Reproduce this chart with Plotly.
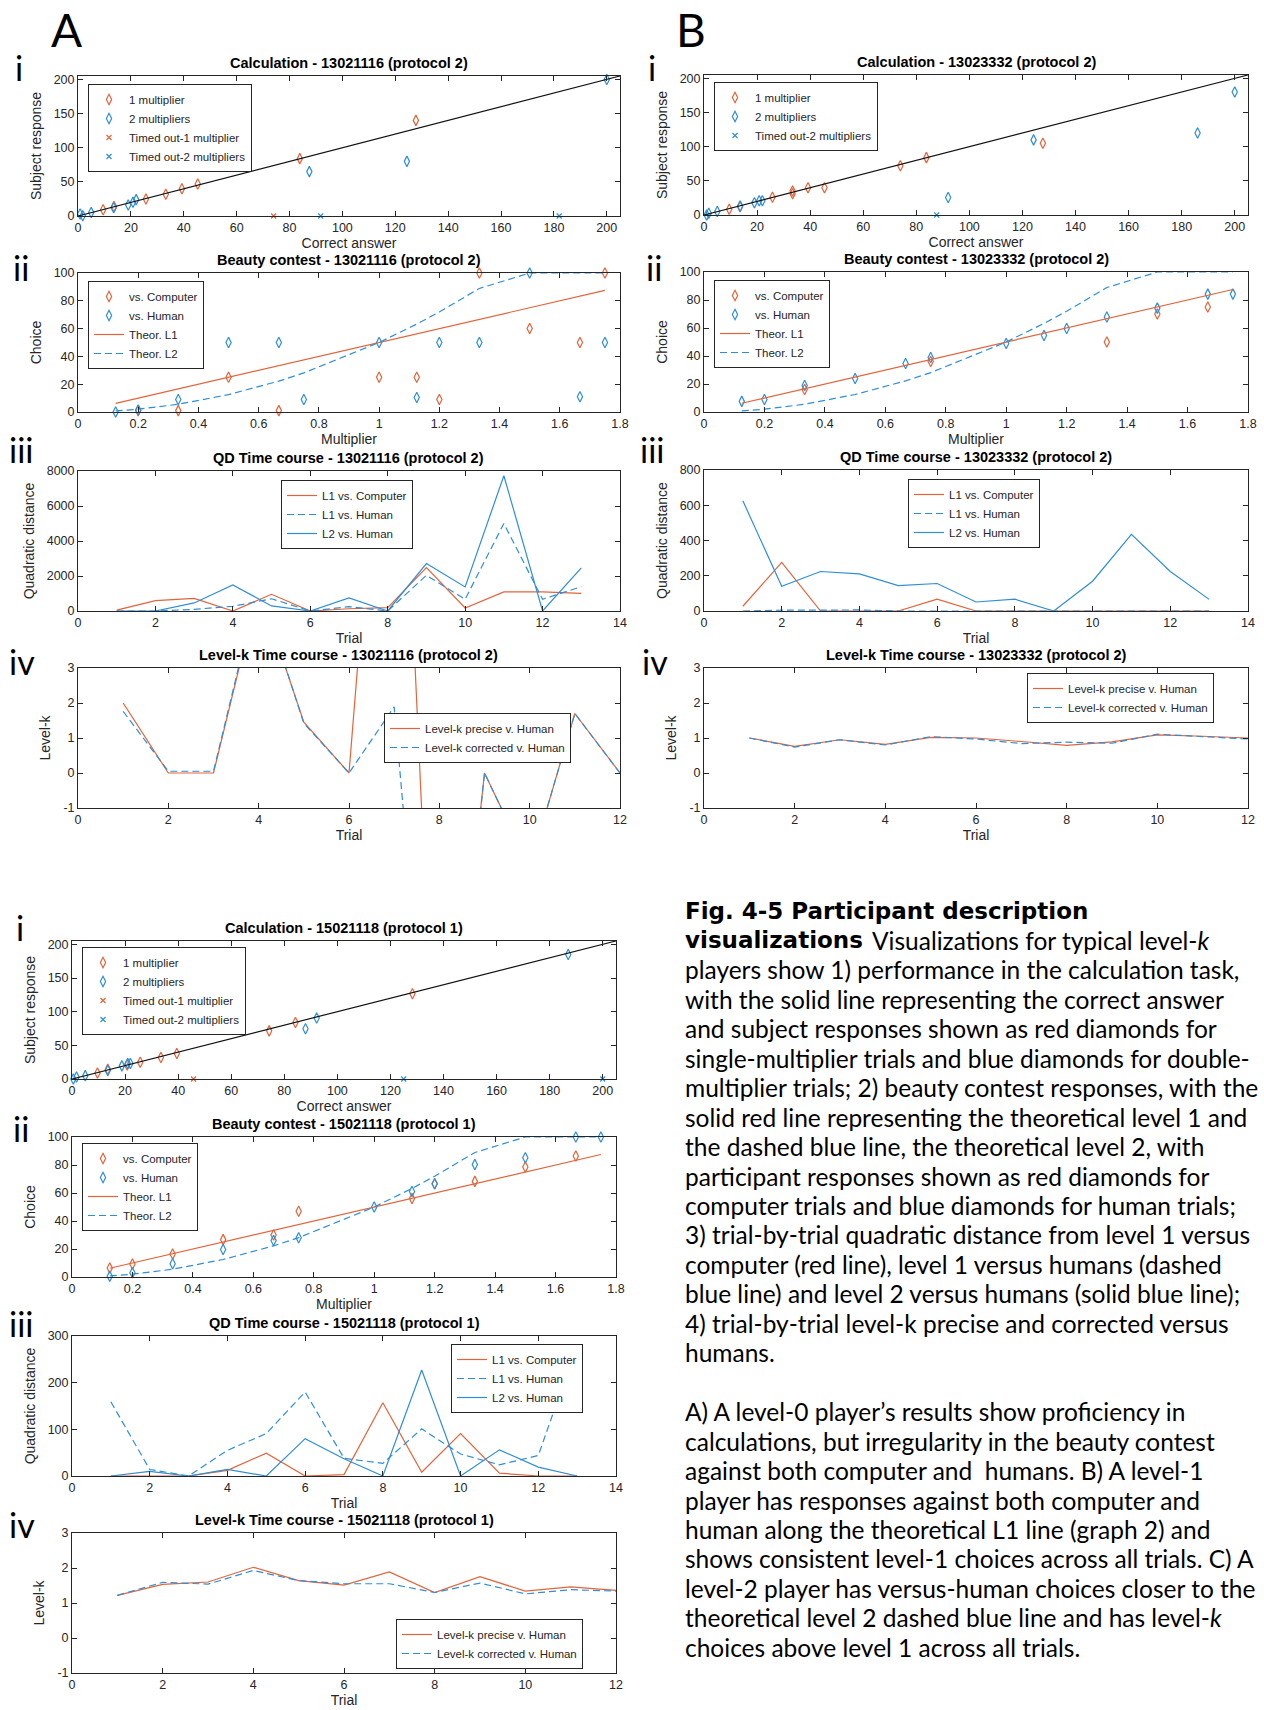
import plotly.graph_objects as go

W, H = 1264, 1710
ORANGE = "#E3643A"
BLUE = "#2F8ED8"
INK = "#262626"
FONT = "Liberation Sans, Arial, sans-serif"
CAPTION_FONT = "Lato, sans-serif"
HEAD_FONT = "DejaVu Sans, sans-serif"

# ---------------- shared categories ----------------
MULT = [0.125, 0.2, 0.333, 0.5, 0.667, 0.75, 1.0, 1.125, 1.2, 1.333, 1.5, 1.667, 1.75]
THEOR_L1 = [6.25, 10, 16.67, 25, 33.33, 37.5, 50, 56.25, 60, 66.67, 75, 83.33, 87.5]
THEOR_L2 = [0.78, 2, 5.56, 12.5, 22.22, 28.13, 50, 63.28, 72, 88.89, 100, 100, 100]
QD_TRIALS = [1, 2, 3, 4, 5, 6, 7, 8, 9, 10, 11, 12, 13]
LK_TRIALS = [1, 2, 3, 4, 5, 6, 7, 8, 9, 10, 11, 12]
CORRECT_LINE = [0, 205]

# ---------------- A: 13021116 (protocol 2) ----------------
A_one_x = [9.5, 13.6, 25.7, 33.2, 39.3, 45.3, 83.9, 127.8]
A_one_y = [9, 14, 25, 32, 40, 47, 84, 140]
A_two_x = [0.8, 1.8, 5, 13.5, 19, 20.8, 22, 87.5, 124.4, 200]
A_two_y = [3, 0.5, 5, 12, 16, 20, 24, 65, 80, 200]
A_to_one_x = [74]
A_to_one_y = [0]
A_to_two_x = [91.8, 182]
A_to_two_y = [0, 0]

A_comp_x = [0.2, 0.333, 0.5, 0.667, 1.0, 1.125, 1.2, 1.333, 1.5, 1.667, 1.75]
A_comp_y = [1, 1, 25, 1, 25, 25, 9, 100, 60, 50, 100]
A_hum_y = [0, 1.5, 9, 50, 50, 9, 50, 10.5, 50, 50, 100, 11, 50]

A_qd_l1_comp = [50, 590, 725, 0, 955, 0, 130, 190, 2480, 170, 1090, 1090, 1010]
A_qd_l1_hum = [0, 0, 95, 270, 700, 0, 250, 0, 2040, 670, 5000, 670, 1390]
A_qd_l2_hum = [0, 0, 460, 1490, 290, 0, 750, 0, 2710, 1375, 7730, 0, 2460]

A_lk_precise = [2.0, 0, 0, 5.3, 1.45, 0, 16, -12, 0, -2.7, 1.7, 0]
A_lk_corrected = [1.76, 0.05, 0.05, 5.4, 1.42, 0, 1.89, -12.6, 0, -2.7, 1.7, 0]

# ---------------- B: 13023332 (protocol 2) ----------------
B_one_x = [9.5, 13.6, 25.8, 33.4, 33.4, 39.2, 45.4, 74, 83.8, 127.7]
B_one_y = [8.4, 12, 26, 31, 35, 40, 40, 72, 84, 105]
B_two_x = [1, 1.8, 5, 13.6, 19, 20.8, 22, 92, 124.2, 186, 200]
B_two_y = [0, 2.5, 5, 13, 18, 21, 21, 25.5, 110, 120, 180]
B_to_two_x = [87.7]
B_to_two_y = [0]

B_comp_x = [0.333, 0.75, 1.333, 1.5, 1.667]
B_comp_y = [16, 36, 50, 70, 75]
B_hum_y = [7.6, 9, 19, 24, 34.6, 39, 49, 54.7, 59.7, 67.8, 74.2, 84.2, 84.2]

B_qd_l1_comp = [27, 276, 0, 0, 0, 67, 0, 0, 0, 0, 0, 0, 0]
B_qd_l1_hum = [0, 5, 5, 6, 0, 0, 0, 0, 0, 0, 0, 0, 0]
B_qd_l2_hum = [625, 140, 224, 211, 144, 156, 51, 67, 0, 169, 435, 224, 66]

B_lk_precise = [1.0, 0.76, 0.95, 0.82, 1.02, 1.0, 0.9, 0.79, 0.89, 1.09, 1.05, 1.0]
B_lk_corrected = [1.0, 0.74, 0.95, 0.80, 1.04, 0.97, 0.84, 0.88, 0.85, 1.11, 1.04, 0.97]

# ---------------- C: 15021118 (protocol 1) ----------------
C_one_x = [9.6, 13.5, 20.8, 25.7, 33.5, 39.5, 74.3, 84.2, 128.3]
C_one_y = [8.8, 14.6, 21, 25, 32, 38, 71.5, 84, 126.5]
C_two_x = [0.5, 1.7, 5, 13.5, 18.8, 21, 22, 88, 92.2, 187]
C_two_y = [0, 3, 5, 12.7, 19.5, 23, 23, 74.5, 90.5, 185]
C_to_one_x = [45.8]
C_to_one_y = [0]
C_to_two_x = [125, 200]
C_to_two_y = [0, 0]

C_comp_x = [0.125, 0.2, 0.333, 0.5, 0.667, 0.75, 1.125, 1.2, 1.333, 1.5, 1.667]
C_comp_y = [6.4, 9.3, 16.5, 26.7, 30, 47, 56, 66.6, 68.3, 78.5, 86.4]
C_hum_y = [0.5, 3, 9.5, 19.6, 26, 28, 50, 61, 66.6, 80.4, 85.2, 100, 100]

C_qd_l1_comp = [0, 0, 0, 12, 49, 0, 3, 157, 8, 91, 6, 0, 0]
C_qd_l1_hum = [159, 14, 0, 55, 91, 180, 38, 27, 101, 47, 24, 44, 281]
C_qd_l2_hum = [0, 10, 0, 14, 0, 80, 37, 0, 227, 0, 56, 19, 0]

C_lk_precise = [1.22, 1.53, 1.60, 2.02, 1.64, 1.51, 1.89, 1.30, 1.75, 1.34, 1.46, 1.36]
C_lk_corrected = [1.22, 1.59, 1.54, 1.93, 1.64, 1.55, 1.55, 1.30, 1.57, 1.26, 1.38, 1.34]

CAPTION_HEAD = "Fig. 4-5 Participant description"
CAPTION_HEAD_2 = "visualizations"
CAPTION = [
    None,
    "Visualizations for typical level-<i>k</i>",
    "players show 1) performance in the calculation task,",
    "with the solid line representing the correct answer",
    "and subject responses shown as red diamonds for",
    "single-multiplier trials and blue diamonds for double-",
    "multiplier trials; 2) beauty contest responses, with the",
    "solid red line representing the theoretical level 1 and",
    "the dashed blue line, the theoretical level 2, with",
    "participant responses shown as red diamonds for",
    "computer trials and blue diamonds for human trials;",
    "3) trial-by-trial quadratic distance from level 1 versus",
    "computer (red line), level 1 versus humans (dashed",
    "blue line) and level 2 versus humans (solid blue line);",
    "4) trial-by-trial level-k precise and corrected versus",
    "humans.",
    None,
    "A) A level-0 player\u2019s results show proficiency in",
    "calculations, but irregularity in the beauty contest",
    "against both computer and  humans. B) A level-1",
    "player has responses against both computer and",
    "human along the theoretical L1 line (graph 2) and",
    "shows consistent level-1 choices across all trials. C) A",
    "level-2 player has versus-human choices closer to the",
    "theoretical level 2 dashed blue line and has level-<i>k</i>",
    "choices above level 1 across all trials.",
]

fig = go.Figure()
layout = {}
annotations = []


def px_x(p):
    return p / W


def px_y(p):
    return 1 - p / H


def axis(domain, rng, title, dtick=None, tickvals=None, ticktext=None, anchor=None, standoff=4):
    d = dict(domain=domain, range=rng, anchor=anchor, showline=True, linecolor=INK, linewidth=1,
             mirror="ticks", ticks="inside", ticklen=5, tickwidth=1, tickcolor=INK,
             showgrid=False, zeroline=False, automargin=False, fixedrange=True,
             tickfont=dict(family=FONT, size=12.5, color=INK),
             title=dict(text=title, font=dict(family=FONT, size=14, color=INK), standoff=standoff))
    if dtick is not None:
        d["tick0"] = 0
        d["dtick"] = dtick
    if tickvals is not None:
        d["tickmode"] = "array"
        d["tickvals"] = tickvals
        d["ticktext"] = ticktext
    return d


LK_TICKS = [-1, 0, 1, 2, 3]
LK_TEXT = ["-1", "0", "1", "2", "3"]


def legend_box(x, y, xanchor="left", yanchor="top"):
    return dict(x=px_x(x), y=px_y(y), xanchor=xanchor, yanchor=yanchor, bgcolor="white",
                bordercolor=INK, borderwidth=1, font=dict(family=FONT, size=11.5, color=INK),
                tracegroupgap=0, itemwidth=30)


def diamonds(x, y, color, name, n, leg):
    return go.Scatter(x=x, y=y, mode="markers", name=name, xaxis=f"x{n}", yaxis=f"y{n}",
                      legend=leg, cliponaxis=False,
                      marker=dict(symbol="diamond-tall-open", size=7.5, color=color,
                                  line=dict(width=1.2, color=color)))


def crosses(x, y, color, name, n, leg):
    return go.Scatter(x=x, y=y, mode="markers", name=name, xaxis=f"x{n}", yaxis=f"y{n}",
                      legend=leg, cliponaxis=False,
                      marker=dict(symbol="x-thin-open", size=5, color=color,
                                  line=dict(width=1.2, color=color)))


def curve(x, y, color, name, n, leg, dash="solid", show=True):
    return go.Scatter(x=x, y=y, mode="lines", name=name, xaxis=f"x{n}", yaxis=f"y{n}",
                      legend=leg, showlegend=show, line=dict(color=color, width=1.2, dash=dash))


DASH = "7px,4px"
legend_no = [0]


def new_legend(spec):
    legend_no[0] += 1
    key = "legend" if legend_no[0] == 1 else f"legend{legend_no[0]}"
    layout[key] = legend_box(*spec)
    return key


def subplot(n, box, title, xcfg, ycfg):
    l, t, r, b = box
    layout[f"xaxis{n}"] = axis([px_x(l), px_x(r)], anchor=f"y{n}", **xcfg)
    layout[f"yaxis{n}"] = axis([px_y(b), px_y(t)], anchor=f"x{n}", **ycfg)
    annotations.append(dict(text=f"<b>{title}</b>", x=px_x((l + r) / 2), y=px_y(t - 13),
                            xref="paper", yref="paper", showarrow=False, xanchor="center",
                            yanchor="middle", font=dict(family=FONT, size=14.5, color="black")))


def calc_panel(n, box, title, one, two, to_one, to_two, leg_spec):
    subplot(n, box, title,
            dict(rng=[0, 205], title="Correct answer", dtick=20),
            dict(rng=[0, 205], title="Subject response", dtick=50, standoff=8))
    leg = new_legend(leg_spec)
    fig.add_trace(diamonds(one[0], one[1], ORANGE, "1 multiplier", n, leg))
    fig.add_trace(diamonds(two[0], two[1], BLUE, "2 multipliers", n, leg))
    if to_one is not None:
        fig.add_trace(crosses(to_one[0], to_one[1], ORANGE, "Timed out-1 multiplier", n, leg))
    fig.add_trace(crosses(to_two[0], to_two[1], BLUE, "Timed out-2 multipliers", n, leg))
    fig.add_trace(curve(CORRECT_LINE, CORRECT_LINE, "#111111", "Correct", n, leg, show=False))


def beauty_panel(n, box, title, comp_x, comp_y, hum_y, leg_spec):
    subplot(n, box, title,
            dict(rng=[0, 1.8], title="Multiplier", dtick=0.2),
            dict(rng=[0, 100], title="Choice", dtick=20, standoff=8))
    leg = new_legend(leg_spec)
    fig.add_trace(diamonds(comp_x, comp_y, ORANGE, "vs. Computer", n, leg))
    fig.add_trace(diamonds(MULT, hum_y, BLUE, "vs. Human", n, leg))
    fig.add_trace(curve(MULT, THEOR_L1, ORANGE, "Theor. L1", n, leg))
    fig.add_trace(curve(MULT, THEOR_L2, BLUE, "Theor. L2", n, leg, dash=DASH))


def qd_panel(n, box, title, ymax, ydtick, l1c, l1h, l2h, leg_spec):
    subplot(n, box, title,
            dict(rng=[0, 14], title="Trial", dtick=2),
            dict(rng=[0, ymax], title="Quadratic distance", dtick=ydtick, standoff=8))
    leg = new_legend(leg_spec)
    fig.add_trace(curve(QD_TRIALS, l1c, ORANGE, "L1 vs. Computer", n, leg))
    fig.add_trace(curve(QD_TRIALS, l1h, BLUE, "L1 vs. Human", n, leg, dash=DASH))
    fig.add_trace(curve(QD_TRIALS, l2h, BLUE, "L2 vs. Human", n, leg))


def lk_panel(n, box, title, precise, corrected, leg_spec):
    subplot(n, box, title,
            dict(rng=[0, 12], title="Trial", dtick=2),
            dict(rng=[-1, 3], title="Level-k", tickvals=LK_TICKS, ticktext=LK_TEXT, standoff=9))
    leg = new_legend(leg_spec)
    fig.add_trace(curve(LK_TRIALS, precise, ORANGE, "Level-k precise v. Human", n, leg))
    fig.add_trace(curve(LK_TRIALS, corrected, BLUE, "Level-k corrected v. Human", n, leg, dash=DASH))


# column A
AX = (78, 620)
calc_panel(1, (AX[0], 76, AX[1], 216), "Calculation - 13021116 (protocol 2)",
           (A_one_x, A_one_y), (A_two_x, A_two_y), (A_to_one_x, A_to_one_y),
           (A_to_two_x, A_to_two_y), (88, 84))
beauty_panel(2, (AX[0], 273, AX[1], 412), "Beauty contest - 13021116 (protocol 2)",
             A_comp_x, A_comp_y, A_hum_y, (88, 281))
qd_panel(3, (AX[0], 471, AX[1], 611), "QD Time course - 13021116 (protocol 2)", 8000, 2000,
         A_qd_l1_comp, A_qd_l1_hum, A_qd_l2_hum, (281, 480))
lk_panel(4, (AX[0], 668, AX[1], 808), "Level-k Time course - 13021116 (protocol 2)",
         A_lk_precise, A_lk_corrected, (384, 738, "left", "middle"))

# column B
BX = (704, 1248)
calc_panel(5, (BX[0], 75, BX[1], 215), "Calculation - 13023332 (protocol 2)",
           (B_one_x, B_one_y), (B_two_x, B_two_y), None,
           (B_to_two_x, B_to_two_y), (714, 82))
beauty_panel(6, (BX[0], 272, BX[1], 412), "Beauty contest - 13023332 (protocol 2)",
             B_comp_x, B_comp_y, B_hum_y, (714, 280))
qd_panel(7, (BX[0], 470, BX[1], 611), "QD Time course - 13023332 (protocol 2)", 800, 200,
         B_qd_l1_comp, B_qd_l1_hum, B_qd_l2_hum, (908, 479))
lk_panel(8, (BX[0], 668, BX[1], 808), "Level-k Time course - 13023332 (protocol 2)",
         B_lk_precise, B_lk_corrected, (1214, 673, "right", "top"))

# column C
CX = (72, 616)
calc_panel(9, (CX[0], 941, CX[1], 1079), "Calculation - 15021118 (protocol 1)",
           (C_one_x, C_one_y), (C_two_x, C_two_y), (C_to_one_x, C_to_one_y),
           (C_to_two_x, C_to_two_y), (82, 947))
beauty_panel(10, (CX[0], 1137, CX[1], 1277), "Beauty contest - 15021118 (protocol 1)",
             C_comp_x, C_comp_y, C_hum_y, (82, 1143))
qd_panel(11, (CX[0], 1336, CX[1], 1476), "QD Time course - 15021118 (protocol 1)", 300, 100,
         C_qd_l1_comp, C_qd_l1_hum, C_qd_l2_hum, (583, 1344, "right", "top"))
lk_panel(12, (CX[0], 1533, CX[1], 1673), "Level-k Time course - 15021118 (protocol 1)",
         C_lk_precise, C_lk_corrected, (583, 1669, "right", "bottom"))

# panel letters and row numerals
for text, x in [("A", 66), ("B", 691)]:
    annotations.append(dict(text=text, x=px_x(x), y=1, xref="paper", yref="paper",
                            showarrow=False, xanchor="center", yanchor="top",
                            font=dict(family=CAPTION_FONT, size=46, color="black")))
numerals = [("i", 19, 68), ("ii", 21, 267), ("iii", 21, 450), ("iv", 22, 662),
            ("i", 652, 68), ("ii", 654, 267), ("iii", 652, 450), ("iv", 655, 662),
            ("i", 20, 927), ("ii", 21, 1128), ("iii", 21, 1323), ("iv", 22, 1524)]
for text, x, y in numerals:
    annotations.append(dict(text=text, x=px_x(x), y=px_y(y), xref="paper", yref="paper",
                            showarrow=False, xanchor="center", yanchor="middle",
                            font=dict(family=CAPTION_FONT, size=34, color="black")))

# caption block
LINE0, STEP, LEFT = 911, 29.45, 683
head_font = dict(family=HEAD_FONT, size=23, color="black", weight="bold")
annotations.append(dict(text=CAPTION_HEAD, x=px_x(LEFT), y=px_y(LINE0), xref="paper",
                        yref="paper", showarrow=False, xanchor="left", yanchor="middle",
                        font=head_font))
annotations.append(dict(text=CAPTION_HEAD_2, x=px_x(LEFT), y=px_y(LINE0 + STEP), xref="paper",
                        yref="paper", showarrow=False, xanchor="left", yanchor="middle",
                        font=head_font))
for i, line in enumerate(CAPTION):
    if not line:
        continue
    x0 = 870 if i == 1 else LEFT
    annotations.append(dict(text=line, x=px_x(x0), y=px_y(LINE0 + i * STEP), xref="paper",
                            yref="paper", showarrow=False, xanchor="left", yanchor="middle",
                            font=dict(family=CAPTION_FONT, size=24.5, color="black")))

layout.update(dict(width=W, height=H, margin=dict(l=0, r=0, t=0, b=0), autosize=False,
                   paper_bgcolor="white", plot_bgcolor="white", annotations=annotations,
                   font=dict(family=FONT, color=INK)))
fig.update_layout(**layout)
fig.write_html("out.html")
